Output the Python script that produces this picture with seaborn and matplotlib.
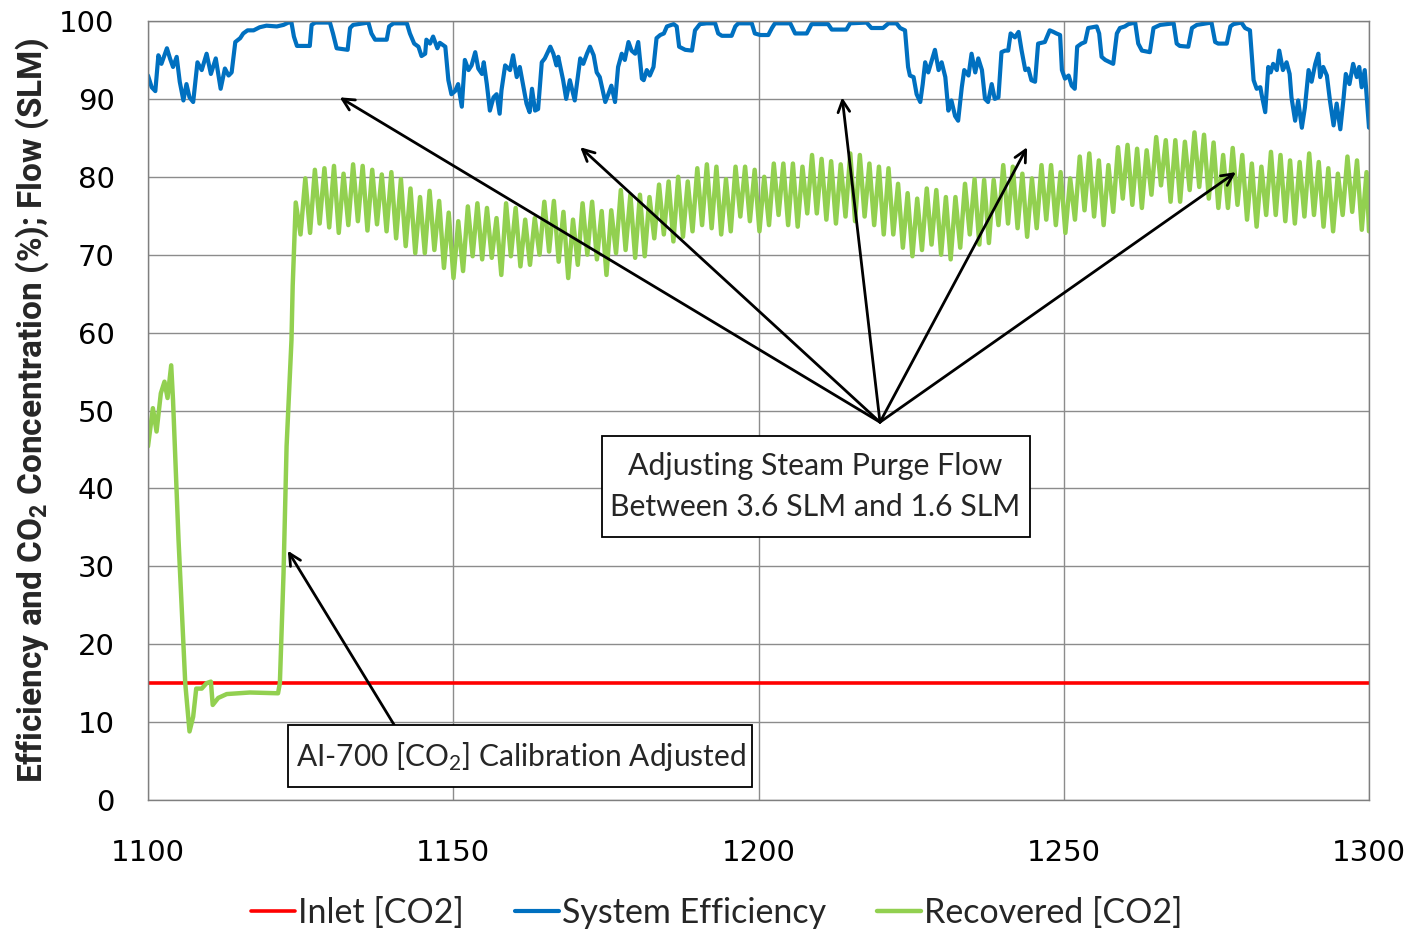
import numpy as np
import pandas as pd
import matplotlib
matplotlib.use("Agg")
import matplotlib.pyplot as plt
from matplotlib.patches import Rectangle
import seaborn as sns

# ---------------- data ----------------
x_ticks = [1100, 1150, 1200, 1250, 1300]
y_ticks = list(range(0, 101, 10))

inlet_time = [1100.0, 1300.0]
inlet_co2 = [15.0, 15.0]

# System efficiency (time, %)
eff_points = [
    (1100.0, 93.0), (1100.6, 91.5), (1101.2, 91.0), (1101.7, 95.6), (1102.2, 94.5), (1103.1, 96.5),
    (1103.6, 95.2), (1104.1, 94.1), (1104.7, 95.4), (1105.2, 92.2), (1105.8, 89.8), (1106.3, 91.9),
    (1106.8, 90.2), (1107.4, 89.6), (1108.1, 94.7), (1108.8, 93.7), (1109.6, 95.8), (1110.3, 93.2),
    (1111.1, 95.2), (1111.9, 91.3), (1112.6, 93.9), (1113.2, 93.0), (1113.7, 93.4), (1114.3, 97.3),
    (1115.1, 97.8), (1115.6, 98.4), (1116.3, 98.8), (1117.3, 98.8), (1118.3, 99.2), (1119.4, 99.4),
    (1121.1, 99.3), (1122.2, 99.5), (1123.0, 99.8), (1123.5, 99.8), (1123.9, 98.0), (1124.4, 96.8),
    (1126.5, 96.8), (1126.8, 99.5), (1127.4, 99.8), (1129.8, 99.8), (1130.3, 98.4), (1130.9, 96.5),
    (1132.7, 96.3), (1133.1, 99.1), (1133.6, 99.5), (1136.1, 99.8), (1136.6, 98.4), (1137.2, 97.6),
    (1139.1, 97.6), (1139.5, 99.3), (1140.2, 99.7), (1142.4, 99.7), (1142.9, 98.4), (1143.6, 97.1),
    (1144.3, 96.7), (1144.8, 95.5), (1145.4, 95.8), (1145.6, 97.6), (1146.2, 97.1), (1146.7, 98.0),
    (1147.4, 96.5), (1147.8, 97.2),
    (1148.7, 96.7), (1149.2, 92.4), (1149.7, 90.6), (1150.3, 91.0), (1150.8, 91.9), (1151.4, 89.0),
    (1151.9, 95.0), (1152.5, 93.7), (1153.0, 94.3), (1153.6, 96.0), (1154.1, 93.9), (1154.7, 93.2),
    (1155.0, 94.7), (1155.5, 91.9), (1156.0, 88.5), (1156.6, 90.2), (1157.1, 90.6), (1157.6, 88.1),
    (1157.9, 91.1), (1158.5, 94.3), (1159.3, 93.7), (1159.8, 95.6), (1160.4, 92.8), (1160.9, 94.1),
    (1161.5, 91.5), (1162.0, 89.4), (1162.5, 88.3), (1162.9, 91.3), (1163.4, 88.5), (1163.9, 88.7),
    (1164.5, 94.7), (1165.0, 95.2), (1165.9, 96.7), (1166.4, 95.8), (1166.9, 94.3), (1167.2, 95.4),
    (1168.0, 92.4), (1168.5, 90.0), (1169.1, 92.4), (1169.9, 89.8), (1170.8, 95.2), (1171.3, 94.5),
    (1171.9, 95.8), (1172.4, 96.7), (1173.0, 95.6), (1173.5, 93.4), (1174.0, 92.8), (1174.9, 89.6),
    (1175.4, 90.6), (1175.9, 91.7), (1176.5, 89.6), (1177.0, 94.1), (1177.6, 95.8), (1178.1, 95.0),
    (1178.7, 97.3), (1179.2, 96.2), (1179.8, 95.8), (1180.3, 97.3), (1180.9, 92.6), (1181.2, 92.4),
    (1181.7, 93.7), (1182.2, 93.0), (1182.8, 94.1), (1183.3, 97.8), (1183.9, 98.2), (1184.5, 98.4),
    (1185.0, 99.3), (1186.1, 99.6), (1186.6, 99.3), (1187.0, 96.7), (1188.0, 96.3), (1189.1, 96.2),
    (1189.6, 98.8), (1190.4, 99.6), (1191.5, 99.7), (1192.9, 99.7), (1193.4, 98.4), (1194.0, 98.1),
    (1195.6, 98.1), (1196.2, 99.3), (1196.7, 99.7), (1198.9, 99.7), (1199.4, 98.4), (1200.3, 98.2),
    (1201.6, 98.2), (1202.2, 99.1), (1202.7, 99.7),
    (1205.2, 99.7), (1206.0, 98.4), (1207.9, 98.4), (1208.7, 99.6), (1211.4, 99.6), (1212.0, 98.9),
    (1214.4, 98.9), (1215.0, 99.7), (1217.7, 99.8), (1218.5, 99.1), (1220.4, 99.1), (1221.3, 99.7),
    (1222.6, 99.7), (1223.2, 99.1), (1224.0, 98.8), (1224.5, 94.1), (1224.8, 93.0), (1225.4, 92.8),
    (1225.9, 90.6), (1226.5, 89.6), (1226.9, 91.9), (1227.3, 94.7), (1227.8, 93.4), (1228.4, 95.0),
    (1228.9, 96.3), (1229.5, 93.7), (1230.0, 94.7), (1230.6, 92.8), (1231.1, 88.5), (1231.6, 89.8),
    (1232.2, 87.8), (1232.7, 87.2), (1233.3, 91.5), (1233.7, 93.7), (1234.4, 93.0), (1234.9, 95.8),
    (1235.5, 93.4), (1236.0, 95.2), (1236.6, 93.7), (1237.1, 90.0), (1237.6, 89.6), (1238.2, 91.9),
    (1238.7, 90.0), (1239.3, 90.2), (1239.8, 96.0), (1240.4, 96.2), (1240.9, 96.2), (1241.3, 98.4),
    (1242.0, 97.9), (1242.6, 98.6), (1243.1, 96.2), (1243.7, 93.7), (1244.2, 93.9), (1244.7, 92.4),
    (1245.3, 92.2), (1245.8, 97.1),
    (1246.9, 97.3), (1247.7, 98.8), (1248.3, 98.6), (1248.8, 98.4), (1249.4, 98.2), (1249.7, 93.7),
    (1250.2, 92.6), (1250.8, 93.0), (1251.3, 91.7), (1251.8, 91.3), (1252.2, 96.7), (1252.9, 97.1),
    (1253.5, 97.3), (1254.0, 99.1), (1255.4, 99.3), (1255.8, 98.4), (1256.2, 95.4), (1256.8, 95.0),
    (1257.6, 94.7), (1258.1, 94.5), (1258.7, 98.4), (1259.2, 99.1), (1260.0, 99.3), (1260.6, 99.6),
    (1261.7, 99.8), (1262.2, 97.1), (1262.8, 96.2), (1264.1, 96.0), (1264.7, 99.1), (1265.8, 99.5),
    (1268.0, 99.7), (1268.5, 97.1), (1269.0, 96.8), (1270.4, 96.7), (1271.0, 99.1), (1271.8, 99.5),
    (1274.2, 99.8), (1274.8, 97.3), (1275.3, 97.1), (1276.7, 97.1), (1277.3, 99.3), (1277.8, 99.6),
    (1279.1, 99.8), (1279.7, 99.1), (1280.5, 98.8), (1281.1, 92.4), (1281.6, 91.3), (1282.2, 91.5),
    (1282.4, 90.6), (1283.0, 88.3), (1283.5, 94.1), (1283.9, 93.4), (1284.3, 94.5), (1284.9, 93.7),
    (1285.3, 96.2), (1285.9, 93.7), (1286.5, 94.7), (1287.0, 93.2), (1287.3, 90.2), (1287.9, 87.2),
    (1288.4, 89.8), (1289.0, 86.3), (1289.5, 88.9), (1290.1, 93.7), (1290.6, 92.2), (1291.2, 94.5),
    (1291.7, 95.8), (1292.0, 92.8), (1292.5, 94.1), (1293.1, 93.0), (1293.6, 89.8), (1294.2, 86.6),
    (1294.7, 89.4), (1295.3, 86.1), (1295.8, 89.8), (1296.2, 93.2), (1296.8, 91.9), (1297.4, 94.5),
    (1298.0, 92.8), (1298.4, 94.1), (1298.8, 91.5), (1299.3, 93.7), (1300.0, 86.3),
]

# Recovered CO2: start-up section (time, %)
rec_early_points = [
    (1100.0, 45.4), (1100.8, 50.3), (1101.4, 47.3), (1102.1, 52.2), (1102.7, 53.7), (1103.2, 51.6),
    (1103.8, 55.8), (1104.1, 51.3), (1105.0, 33.4), (1106.1, 15.0), (1106.8, 8.8), (1107.4, 10.7),
    (1107.9, 14.3), (1108.8, 14.3), (1109.6, 15.0), (1110.3, 15.2), (1110.6, 12.2), (1111.5, 13.1),
    (1112.9, 13.6), (1116.7, 13.8), (1121.3, 13.7), (1121.6, 15.0), (1122.2, 29.1), (1122.7, 45.4),
    (1123.5, 59.0), (1123.7, 66.0),
]
# Recovered CO2: oscillating section, successive peaks and troughs
rec_peaks = [
    76.7, 79.8, 80.9, 81.1, 81.4, 80.4, 81.6, 81.4, 80.9, 80.3, 80.6, 79.7, 78.5, 77.4, 78.2, 76.9,
    75.4, 74.3, 76.2, 76.6, 76.0, 74.7,
    76.6, 76.0, 74.5, 74.7, 76.8, 76.9, 75.5, 74.5, 76.6, 76.8, 75.6, 75.7, 78.3, 77.7, 77.7, 77.4,
    79.0, 79.4, 80.0, 79.4, 81.1, 81.6,
    81.3, 79.7, 81.3, 81.3, 80.9, 80.0, 81.7, 81.7, 81.7, 81.3, 82.8, 82.3, 82.0, 81.6, 83.0, 82.8,
    81.7, 81.3, 81.1, 79.1, 77.9, 77.2, 78.5,
    78.3, 77.4, 77.4, 79.1, 79.7, 79.6, 79.6, 81.5, 81.3, 80.4, 79.8, 81.5, 81.5, 80.6, 79.8, 82.6,
    83.0, 82.1, 81.5, 83.8, 84.1, 83.6,
    83.4, 85.1, 84.7, 84.7, 84.5, 85.7, 85.4, 84.4, 82.8, 83.7, 82.8, 81.7, 81.3, 83.2, 82.8, 82.1,
    81.9, 83.0, 81.9, 81.1, 80.4, 82.6, 82.1, 80.6,
]
rec_troughs = [
    72.6, 72.8, 74.0, 73.5, 72.8, 73.8, 74.3, 73.1, 73.9, 73.0, 72.1, 71.1, 70.2, 70.2, 70.6, 68.3,
    67.0, 67.9, 69.8, 69.4, 69.6, 67.4,
    69.8, 68.5, 68.7, 70.0, 70.4, 69.1, 67.0, 68.7, 70.0, 69.4, 67.4, 70.2, 70.6, 69.6, 69.8, 72.1,
    72.6, 71.7, 72.3, 73.0, 73.8, 73.4,
    72.6, 73.0, 74.9, 74.3, 73.0, 73.8, 75.1, 73.8, 73.6, 75.3, 75.3, 74.5, 74.0, 74.9, 74.3, 74.9,
    73.8, 72.6, 72.6, 70.9, 69.8, 70.6, 71.3,
    70.0, 69.4, 70.9, 72.6, 71.3, 71.5, 73.8, 74.0, 73.4, 72.3, 73.4, 74.5, 73.8, 72.8, 74.5, 75.7,
    74.9, 73.8, 75.5, 77.2, 76.4, 76.0,
    77.7, 78.9, 76.8, 76.8, 78.3, 78.7, 77.2, 76.0, 76.0, 76.4, 74.5, 73.6, 75.1, 75.1, 74.3, 74.0,
    74.9, 75.1, 73.6, 73.0, 75.1, 75.5, 73.2,
]
rec_osc_first_time = 1124.2
rec_osc_last_time = 1299.6
rec_end_point = (1300.0, 73.0)

legend_labels = ["Inlet [CO2]", "System Efficiency", "Recovered [CO2]"]
colors = ["#FF0000", "#0070C0", "#92D050"]

# ---------------- build frames ----------------
osc_vals = []
for i, p in enumerate(rec_peaks):
    osc_vals.append(p)
    if i < len(rec_troughs):
        osc_vals.append(rec_troughs[i])
osc_times = np.linspace(rec_osc_first_time, rec_osc_last_time, len(osc_vals))

rec_time = [p[0] for p in rec_early_points] + list(osc_times) + [rec_end_point[0]]
rec_val = [p[1] for p in rec_early_points] + osc_vals + [rec_end_point[1]]

df_inlet = pd.DataFrame({"t": inlet_time, "v": inlet_co2})
df_eff = pd.DataFrame({"t": [p[0] for p in eff_points], "v": [p[1] for p in eff_points]})
df_rec = pd.DataFrame({"t": rec_time, "v": rec_val})

# ---------------- style ----------------
sns.set_theme(style="white")
plt.rcParams["font.family"] = ["Lato", "DejaVu Sans"]
plt.rcParams["mathtext.fontset"] = "custom"
plt.rcParams["mathtext.rm"] = "Lato"
plt.rcParams["mathtext.it"] = "Lato"
plt.rcParams["mathtext.bf"] = "Roboto:bold"

fig = plt.figure(figsize=(14.14, 9.31), dpi=100)
ax = fig.add_axes([148 / 1414, 1 - 800 / 931, (1369 - 148) / 1414, (800 - 21) / 931])

sns.lineplot(data=df_inlet, x="t", y="v", ax=ax, color=colors[0], lw=2.6,
             label=legend_labels[0], estimator=None, sort=False)
sns.lineplot(data=df_eff, x="t", y="v", ax=ax, color=colors[1], lw=3.0,
             label=legend_labels[1], estimator=None, sort=False)
sns.lineplot(data=df_rec, x="t", y="v", ax=ax, color=colors[2], lw=3.2,
             label=legend_labels[2], estimator=None, sort=False)

ax.set_xlim(1100, 1300)
ax.set_ylim(0, 100)
ax.set_xticks(x_ticks)
ax.set_yticks(y_ticks)
ax.grid(True, color="#8c8c8c", lw=1.0)
ax.set_axisbelow(True)
for s in ax.spines.values():
    s.set_color("#7f7f7f")
    s.set_linewidth(1.0)
ax.tick_params(axis="both", length=0, labelsize=21, colors="black")
ax.tick_params(axis="y", pad=24)
ax.tick_params(axis="x", pad=28)
for lab in ax.get_xticklabels() + ax.get_yticklabels():
    lab.set_family("DejaVu Sans")
ax.set_xlabel("")
ax.set_ylabel(r"Efficiency and CO$_\mathbf{2}$ Concentration (%); Flow (SLM)",
              fontsize=24, fontweight="bold", family=["Roboto", "DejaVu Sans"], labelpad=6)

# legend
handles, labels = ax.get_legend_handles_labels()
ax.get_legend().remove()
fig.legend(handles, labels, loc="center", bbox_to_anchor=(0.507, 0.019), ncol=3,
           frameon=False, fontsize=24.5, handlelength=1.3, handletextpad=0.08,
           columnspacing=1.5)

# annotations
arrow_kw = dict(arrowstyle="->,head_length=0.7,head_width=0.35", color="black", lw=2.0,
                shrinkA=0, shrinkB=0)
origin = (1219.9, 48.5)
for tip in [(1131.4, 90.2), (1170.8, 83.8), (1213.7, 90.2), (1244.0, 83.8), (1278.2, 80.6)]:
    ax.annotate("", xy=tip, xytext=origin, arrowprops=arrow_kw)
ax.annotate("", xy=(1122.9, 32.0), xytext=(1141.6, 8.0), arrowprops=arrow_kw)

ax.add_patch(Rectangle((1174.4, 33.8), 70.0, 12.9, fc="white", ec="black", lw=1.3, zorder=4))
ax.text(1209.3, 40.3, "Adjusting Steam Purge Flow\nBetween 3.6 SLM and 1.6 SLM",
        ha="center", va="center", fontsize=21.8, linespacing=1.56, zorder=5)
ax.add_patch(Rectangle((1122.9, 1.7), 76.0, 7.9, fc="white", ec="black", lw=1.3, zorder=4))
ax.text(1161.0, 5.6, r"AI-700 [CO$_2$] Calibration Adjusted",
        ha="center", va="center", fontsize=21.5, zorder=5)

fig.savefig("out.png", dpi=100)
